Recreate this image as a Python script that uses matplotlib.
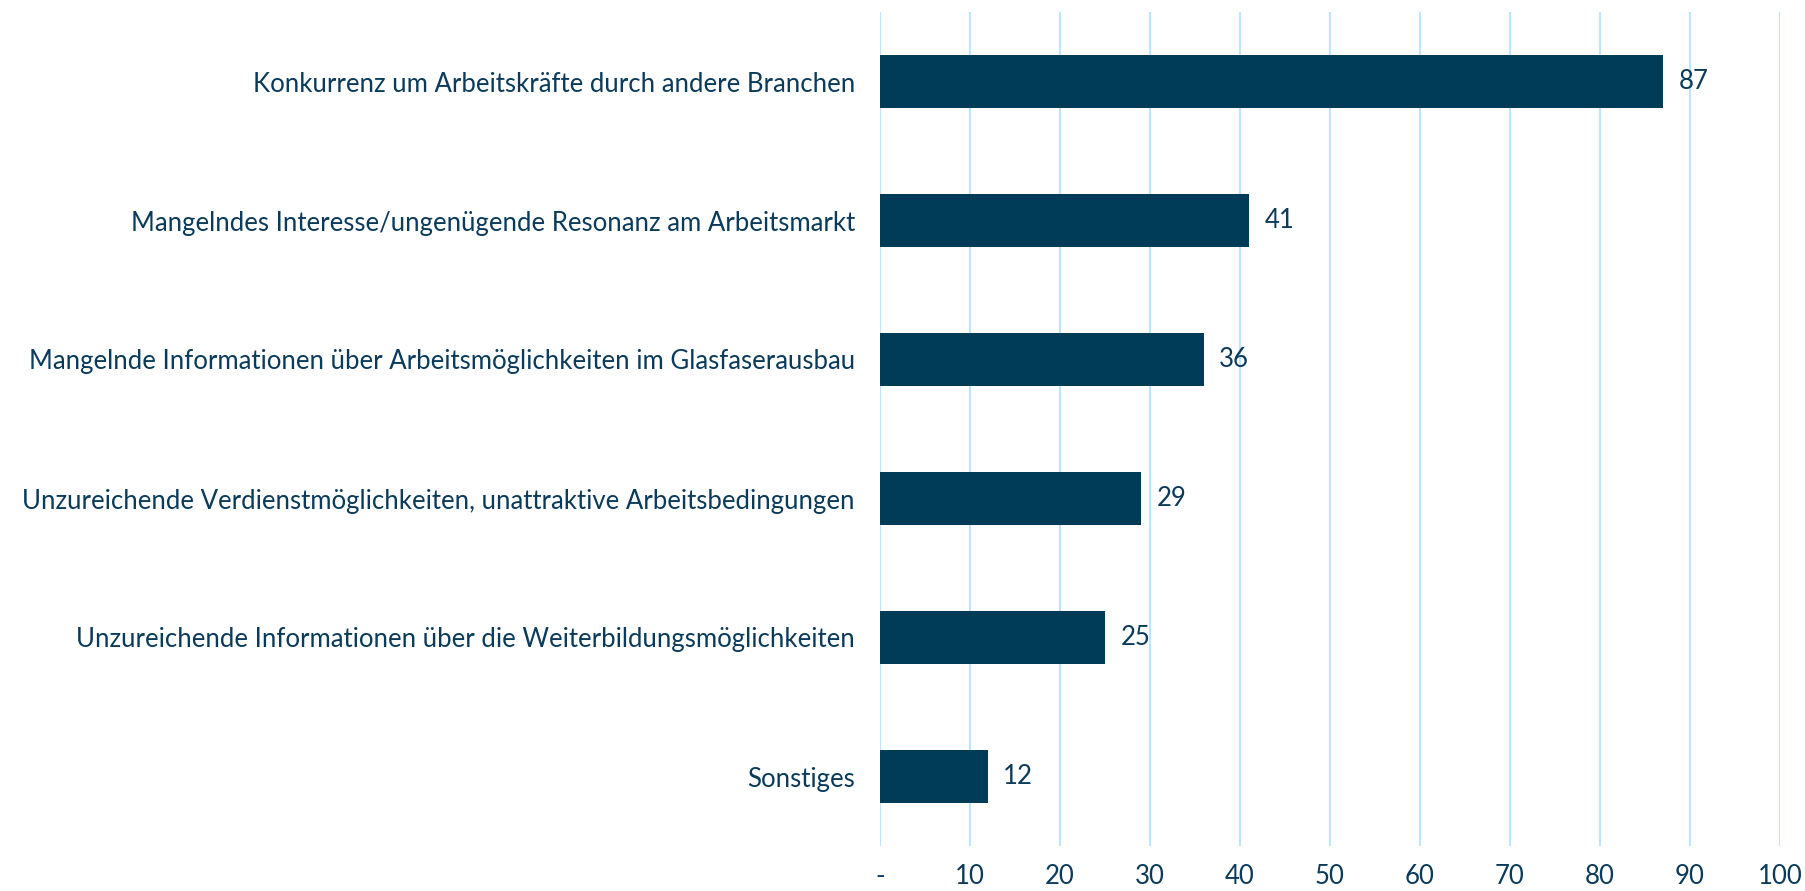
import matplotlib.pyplot as plt
import numpy as np

plt.rcParams['font.family'] = ['Lato', 'DejaVu Sans']

# data (top to bottom)
categories = [
    "Konkurrenz um Arbeitskräfte durch andere Branchen",
    "Mangelndes Interesse/ungenügende Resonanz am Arbeitsmarkt",
    "Mangelnde Informationen über Arbeitsmöglichkeiten im Glasfaserausbau",
    "Unzureichende Verdienstmöglichkeiten, unattraktive Arbeitsbedingungen",
    "Unzureichende Informationen über die Weiterbildungsmöglichkeiten",
    "Sonstiges",
]
values = [87, 41, 36, 29, 25, 12]
xticks = [0, 10, 20, 30, 40, 50, 60, 70, 80, 90, 100]
xticklabels = ["-", "10", "20", "30", "40", "50", "60", "70", "80", "90", "100"]

bar_color = "#003B57"
grid_color = "#BDE6FA"
text_color = "#0B3B5B"
fs = 18.5

fig = plt.figure(figsize=(18.06, 8.91), dpi=100)
ax = fig.add_axes([880 / 1806, 1 - 846 / 891, 900 / 1806, (846 - 12) / 891])

y = np.arange(len(categories))
ax.barh(y, values, height=0.375, color=bar_color, zorder=3)
for yi, v in zip(y, values):
    ax.text(v + 1.7, yi, str(v), va="center", ha="left", fontsize=fs, color=text_color)

ax.set_ylim(len(categories) - 0.5, -0.5)
ax.set_xlim(0, 100)
ax.set_yticks(y)
ax.set_yticklabels(categories, fontsize=fs, color=text_color)
ax.set_xticks(xticks)
ax.set_xticklabels(xticklabels, fontsize=fs, color=text_color)
ax.tick_params(axis="both", length=0)
ax.tick_params(axis="y", pad=18)
ax.tick_params(axis="x", pad=13)

ax.grid(axis="x", color=grid_color, linewidth=1.5, zorder=0)
ax.grid(axis="y", visible=False)
for s in ax.spines.values():
    s.set_visible(False)

fig.savefig("out.png", dpi=100)
